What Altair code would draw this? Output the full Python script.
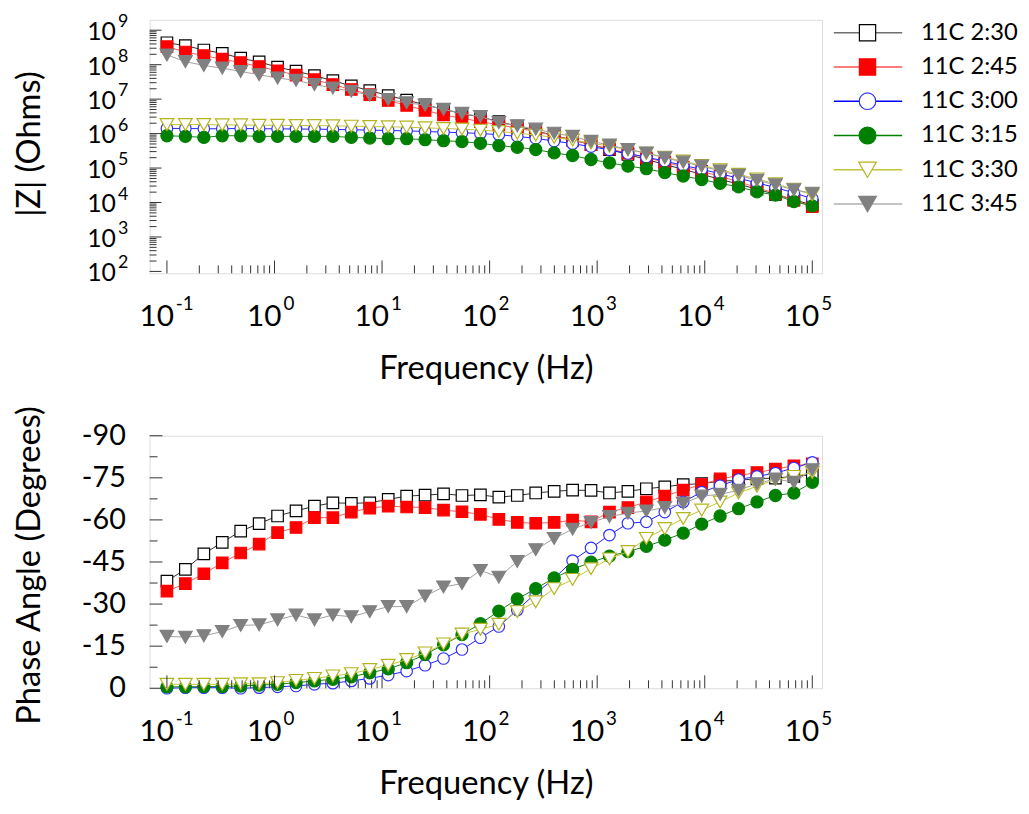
import altair as alt
import pandas as pd

# ---------------- data ----------------
freq = [0.1, 0.1484, 0.2203, 0.3268, 0.4851, 0.7197, 1.068, 1.585, 2.352, 3.49,
        5.18, 7.686, 11.41, 16.93, 25.12, 37.28, 55.33, 82.1, 121.8, 180.8,
        268.3, 398.1, 590.8, 876.8, 1301, 1931, 2865, 4252, 6310, 9364,
        13895, 20620, 30600, 45410, 67390, 100000]

series = ["11C 2:30", "11C 2:45", "11C 3:00", "11C 3:15", "11C 3:30", "11C 3:45"]

z_230 = [4.33e8, 3.55e8, 2.67e8, 2.14e8, 1.54e8, 1.2e8, 8.47e7, 6.5e7, 4.79e7, 3.44e7,
         2.42e7, 1.77e7, 1.27e7, 9.35e6, 6.87e6, 5.05e6, 3.79e6, 3.04e6, 2.23e6, 1.64e6,
         1.2e6, 8.85e5, 6.5e5, 4.78e5, 3.44e5, 2.47e5, 1.77e5, 1.27e5, 9.16e4, 6.58e4,
         4.73e4, 3.4e4, 2.44e4, 1.71e4, 1.2e4, 8.47e3]
z_245 = [3.33e8, 2.33e8, 1.83e8, 1.44e8, 1.15e8, 8.85e7, 6.65e7, 5.0e7, 3.67e7, 2.64e7,
         1.9e7, 1.36e7, 9.16e6, 6.58e6, 4.73e6, 3.48e6, 2.79e6, 2.23e6, 1.79e6, 1.44e6,
         1.15e6, 8.67e5, 6.5e5, 4.78e5, 3.59e5, 2.7e5, 1.98e5, 1.49e5, 1.07e5, 8.02e4,
         5.77e4, 3.96e4, 2.72e4, 1.83e4, 1.18e4, 7.6e3]
z_300 = [1.41e6, 1.41e6, 1.38e6, 1.38e6, 1.41e6, 1.38e6, 1.38e6, 1.35e6, 1.35e6, 1.32e6,
         1.29e6, 1.26e6, 1.23e6, 1.2e6, 1.15e6, 1.1e6, 1.06e6, 1.01e6, 9.27e5, 8.3e5,
         7.26e5, 6.1e5, 5.11e5, 4.19e5, 3.36e5, 2.64e5, 2.07e5, 1.59e5, 1.19e5, 9.16e4,
         6.87e4, 5.05e4, 3.71e4, 2.72e4, 1.91e4, 1.29e4]
z_315 = [8.67e5, 8.3e5, 7.76e5, 8.67e5, 8.67e5, 8.3e5, 8.3e5, 8.3e5, 8.3e5, 8.3e5,
         7.76e5, 7.43e5, 7.11e5, 7.11e5, 6.65e5, 6.22e5, 5.83e5, 5.22e5, 4.48e5, 4.01e5,
         3.44e5, 2.75e5, 2.31e5, 1.77e5, 1.42e5, 1.14e5, 9.57e4, 7.35e4, 5.89e4, 4.62e4,
         3.59e4, 2.85e4, 2.05e4, 1.64e4, 1.06e4, 7.94e3]
z_330 = [1.83e6, 1.83e6, 1.83e6, 1.79e6, 1.79e6, 1.75e6, 1.75e6, 1.71e6, 1.71e6, 1.68e6,
         1.64e6, 1.61e6, 1.57e6, 1.54e6, 1.47e6, 1.41e6, 1.35e6, 1.26e6, 1.15e6, 1.03e6,
         9.06e5, 7.76e5, 6.5e5, 5.33e5, 4.29e5, 3.44e5, 2.7e5, 2.07e5, 1.59e5, 1.19e5,
         8.95e4, 6.58e4, 4.83e4, 3.48e4, 2.44e4, 1.68e4]
z_345 = [1.91e8, 1.23e8, 9.46e7, 7.94e7, 6.37e7, 5.11e7, 4.09e7, 3.51e7, 2.64e7, 2.11e7,
         1.7e7, 1.3e7, 9.77e6, 7.85e6, 6.73e6, 5.05e6, 3.88e6, 3.11e6, 2.09e6, 1.68e6,
         1.35e6, 1.03e6, 8.3e5, 5.96e5, 4.68e5, 3.44e5, 2.75e5, 1.98e5, 1.49e5, 1.14e5,
         8.2e4, 6.17e4, 4.43e4, 3.25e4, 2.33e4, 1.87e4]

ph_230 = [-38.2, -42.4, -47.9, -52.0, -56.0, -58.7, -61.4, -63.2, -64.9, -66.1,
          -65.9, -66.1, -67.3, -68.5, -68.8, -69.3, -68.7, -68.9, -68.1, -68.7,
          -69.6, -70.2, -70.6, -70.5, -69.6, -70.2, -71.1, -71.8, -72.6, -72.9,
          -73.8, -74.1, -74.7, -74.9, -75.5, -76.1]
ph_245 = [-34.6, -37.3, -40.8, -44.7, -48.2, -51.4, -55.5, -57.3, -60.8, -60.8,
          -62.8, -64.2, -64.9, -64.6, -64.4, -63.5, -62.9, -62.0, -60.2, -59.1,
          -58.8, -59.1, -59.9, -59.3, -62.8, -64.4, -66.4, -68.5, -70.6, -72.6,
          -74.6, -75.8, -76.9, -78.1, -79.3, -80.0]
ph_300 = [0.0, -0.2, -0.2, -0.2, 0.0, -0.2, -0.5, -0.8, -1.4, -1.8,
          -2.6, -3.5, -4.7, -6.1, -8.2, -10.6, -13.8, -18.0, -22.0, -27.9,
          -33.8, -39.1, -45.5, -50.0, -54.6, -58.8, -59.3, -62.8, -66.4, -69.9,
          -72.2, -74.4, -75.5, -76.7, -78.5, -80.5]
ph_315 = [-0.5, -0.5, -0.6, -0.6, -0.8, -1.1, -1.4, -2.0, -2.6, -3.2,
          -4.1, -5.5, -6.9, -9.1, -12.0, -15.5, -19.1, -23.0, -27.5, -31.8,
          -35.5, -39.3, -42.4, -44.9, -47.1, -48.7, -50.6, -52.8, -55.3, -58.5,
          -61.4, -64.0, -66.4, -68.7, -69.6, -73.4]
ph_330 = [-1.4, -1.4, -1.4, -1.4, -1.6, -1.6, -2.0, -2.8, -3.5, -4.4,
          -5.2, -6.7, -8.2, -10.2, -12.6, -15.8, -19.3, -21.0, -22.8, -27.3,
          -30.8, -35.5, -38.8, -42.6, -46.1, -48.7, -53.4, -56.9, -60.5, -63.5,
          -66.4, -69.6, -72.0, -74.4, -75.5, -76.9]
ph_345 = [-18.5, -18.2, -18.7, -20.2, -22.4, -22.6, -24.4, -26.1, -24.4, -26.1,
          -25.5, -27.3, -29.1, -29.1, -32.9, -36.1, -37.3, -42.0, -39.6, -45.2,
          -49.4, -53.4, -56.7, -59.1, -61.2, -62.4, -63.2, -64.4, -65.9, -68.5,
          -69.1, -70.6, -72.9, -74.6, -73.4, -77.9]

# axis tick values / labels
x_major = [0.1, 1, 10, 100, 1000, 10000, 100000]
x_exp = ["-1", "0", "1", "2", "3", "4", "5"]
x_minor = [k * 10.0 ** d for d in range(-1, 5) for k in range(2, 10)]
z_major = [1e2, 1e3, 1e4, 1e5, 1e6, 1e7, 1e8, 1e9]
z_exp = ["2", "3", "4", "5", "6", "7", "8", "9"]
z_minor = [k * 10.0 ** d for d in range(2, 9) for k in range(2, 10)]
ph_major = [-90, -75, -60, -45, -30, -15, 0]
ph_labels = ["-90", "-75", "-60", "-45", "-30", "-15", "0"]
ph_minor = [-82.5, -67.5, -52.5, -37.5, -22.5, -7.5]

# ---------------- styles ----------------
FONT = "Lato"
TICK = "#333333"
shapes = ["square", "square", "circle", "circle", "triangle-down", "triangle-down"]
fills = ["white", "#ff0000", "white", "#008000", "white", "#808080"]
strokes = ["#000000", "#ff0000", "#3030ff", "#008000", "#b4b41e", "#808080"]
line_colors = ["#303030", "#ff5c5c", "#2020ff", "#1a801a", "#c4c43a", "#a0a0a0"]
leg_line_colors = ["#707070", "#ff5050", "#0000ff", "#008000", "#c4c43a", "#b0b0b0"]
sizes = [135, 135, 135, 150, 190, 190]
leg_sizes = [270, 270, 280, 290, 320, 320]

W, H1, H2 = 679, 256, 255

rows = []
for s, zs, ps in zip(series, [z_230, z_245, z_300, z_315, z_330, z_345],
                     [ph_230, ph_245, ph_300, ph_315, ph_330, ph_345]):
    for f, z, p in zip(freq, zs, ps):
        rows.append({"series": s, "freq": f, "z": z, "phase": p})
df = pd.DataFrame(rows)

title_kw = dict(titleFont=FONT, titleFontSize=33, titleFontWeight="normal", titleColor="black")

X = alt.X("freq:Q", scale=alt.Scale(type="log", domain=[0.069, 1.23e5], nice=False),
          axis=alt.Axis(title="Frequency (Hz)", labels=False, ticks=False, domain=False, grid=False,
                        titleY=96, titleBaseline="middle", **title_kw))
Y1 = alt.Y("z:Q", scale=alt.Scale(type="log", domain=[88, 2.0e9], nice=False),
           axis=alt.Axis(title="|Z| (Ohms)", labels=False, ticks=False, domain=False, grid=False,
                         titleX=-121, titleY=H1 / 2 - 3, titleAngle=270, titleBaseline="middle", **title_kw))
Y2 = alt.Y("phase:Q", scale=alt.Scale(domain=[-90, 0], reverse=True, nice=False),
           axis=alt.Axis(title="Phase Angle (Degrees)", labels=False, ticks=False, domain=False, grid=False,
                         titleX=-121, titleY=H2 / 2 + 3, titleAngle=270, titleBaseline="middle", **title_kw))


def data_layers(Y):
    out = []
    for i, s in enumerate(series):
        base = alt.Chart(df).transform_filter(alt.datum.series == s)
        out.append(base.mark_line(color=line_colors[i], strokeWidth=1).encode(x=X, y=Y))
        out.append(base.mark_point(shape=shapes[i], filled=True, fill=fills[i], stroke=strokes[i],
                                   strokeWidth=1.2, size=sizes[i], opacity=1).encode(x=X, y=Y))
    return out


def x_axis_layers(H):
    maj = pd.DataFrame({"freq": x_major, "exp": x_exp})
    mnr = pd.DataFrame({"freq": x_minor})
    return [
        alt.Chart(maj).mark_rule(color=TICK, strokeWidth=1).encode(x=X, y=alt.value(H), y2=alt.value(H - 13)),
        alt.Chart(mnr).mark_rule(color=TICK, strokeWidth=1).encode(x=X, y=alt.value(H), y2=alt.value(H - 8)),
        alt.Chart(maj).mark_text(font=FONT, fontSize=30, align="right", baseline="middle", dx=7,
                                 color="black", text="10").encode(x=X, y=alt.value(H + 44)),
        alt.Chart(maj).mark_text(font=FONT, fontSize=19, align="left", baseline="middle", dx=9,
                                 color="black").encode(x=X, y=alt.value(H + 31), text="exp:N"),
    ]


# legend (drawn to the right of the top plot area)
leg_df = pd.DataFrame({"series": series})
leg_layers = []
for i, s in enumerate(series):
    yi = 13 + i * 34.6
    lb = alt.Chart(leg_df).transform_filter(alt.datum.series == s)
    leg_layers.append(lb.mark_rule(color=leg_line_colors[i], strokeWidth=1.5).encode(
        x=alt.value(W + 12), x2=alt.value(W + 81), y=alt.value(yi)))
    leg_layers.append(lb.mark_point(shape=shapes[i], filled=True, fill=fills[i], stroke=strokes[i],
                                    strokeWidth=1.2, size=leg_sizes[i], opacity=1).encode(
        x=alt.value(W + 46), y=alt.value(yi)))
    leg_layers.append(lb.mark_text(font=FONT, fontSize=24, align="left", baseline="middle", color="black").encode(
        x=alt.value(W + 100), y=alt.value(yi), text="series:N"))

# top panel
zmaj = pd.DataFrame({"z": z_major, "exp": z_exp})
zmin = pd.DataFrame({"z": z_minor})
top_layers = data_layers(Y1) + x_axis_layers(H1) + [
    alt.Chart(zmaj).mark_rule(color=TICK, strokeWidth=1).encode(y=Y1, x=alt.value(0), x2=alt.value(12)),
    alt.Chart(zmin).mark_rule(color=TICK, strokeWidth=1).encode(y=Y1, x=alt.value(0), x2=alt.value(7)),
    alt.Chart(zmaj).mark_text(font=FONT, fontSize=25, align="right", baseline="middle", dy=2,
                              color="black", text="10").encode(y=Y1, x=alt.value(-34)),
    alt.Chart(zmaj).mark_text(font=FONT, fontSize=18, align="left", baseline="middle", dy=-8,
                              color="black").encode(y=Y1, x=alt.value(-32), text="exp:N"),
] + leg_layers
top = alt.layer(*top_layers).properties(width=W, height=H1)

# bottom panel
pmaj = pd.DataFrame({"phase": ph_major, "lab": ph_labels})
pmin = pd.DataFrame({"phase": ph_minor})
bot_layers = data_layers(Y2) + x_axis_layers(H2) + [
    alt.Chart(pmaj).mark_rule(color=TICK, strokeWidth=1).encode(y=Y2, x=alt.value(0), x2=alt.value(13)),
    alt.Chart(pmin).mark_rule(color=TICK, strokeWidth=1).encode(y=Y2, x=alt.value(0), x2=alt.value(8)),
    alt.Chart(pmaj).mark_text(font=FONT, fontSize=29, align="right", baseline="middle",
                              color="black").encode(y=Y2, x=alt.value(-24), text="lab:N"),
]
bottom = alt.layer(*bot_layers).properties(width=W, height=H2)

chart = alt.vconcat(top, bottom, spacing=164, bounds="flush").properties(
    background="white", padding={"left": 5, "top": 0, "right": 2, "bottom": 5}
).configure_view(stroke="#707070", strokeWidth=1.5).configure(font=FONT)

chart.save("out.html", embed_options={"renderer": "svg", "actions": False})
